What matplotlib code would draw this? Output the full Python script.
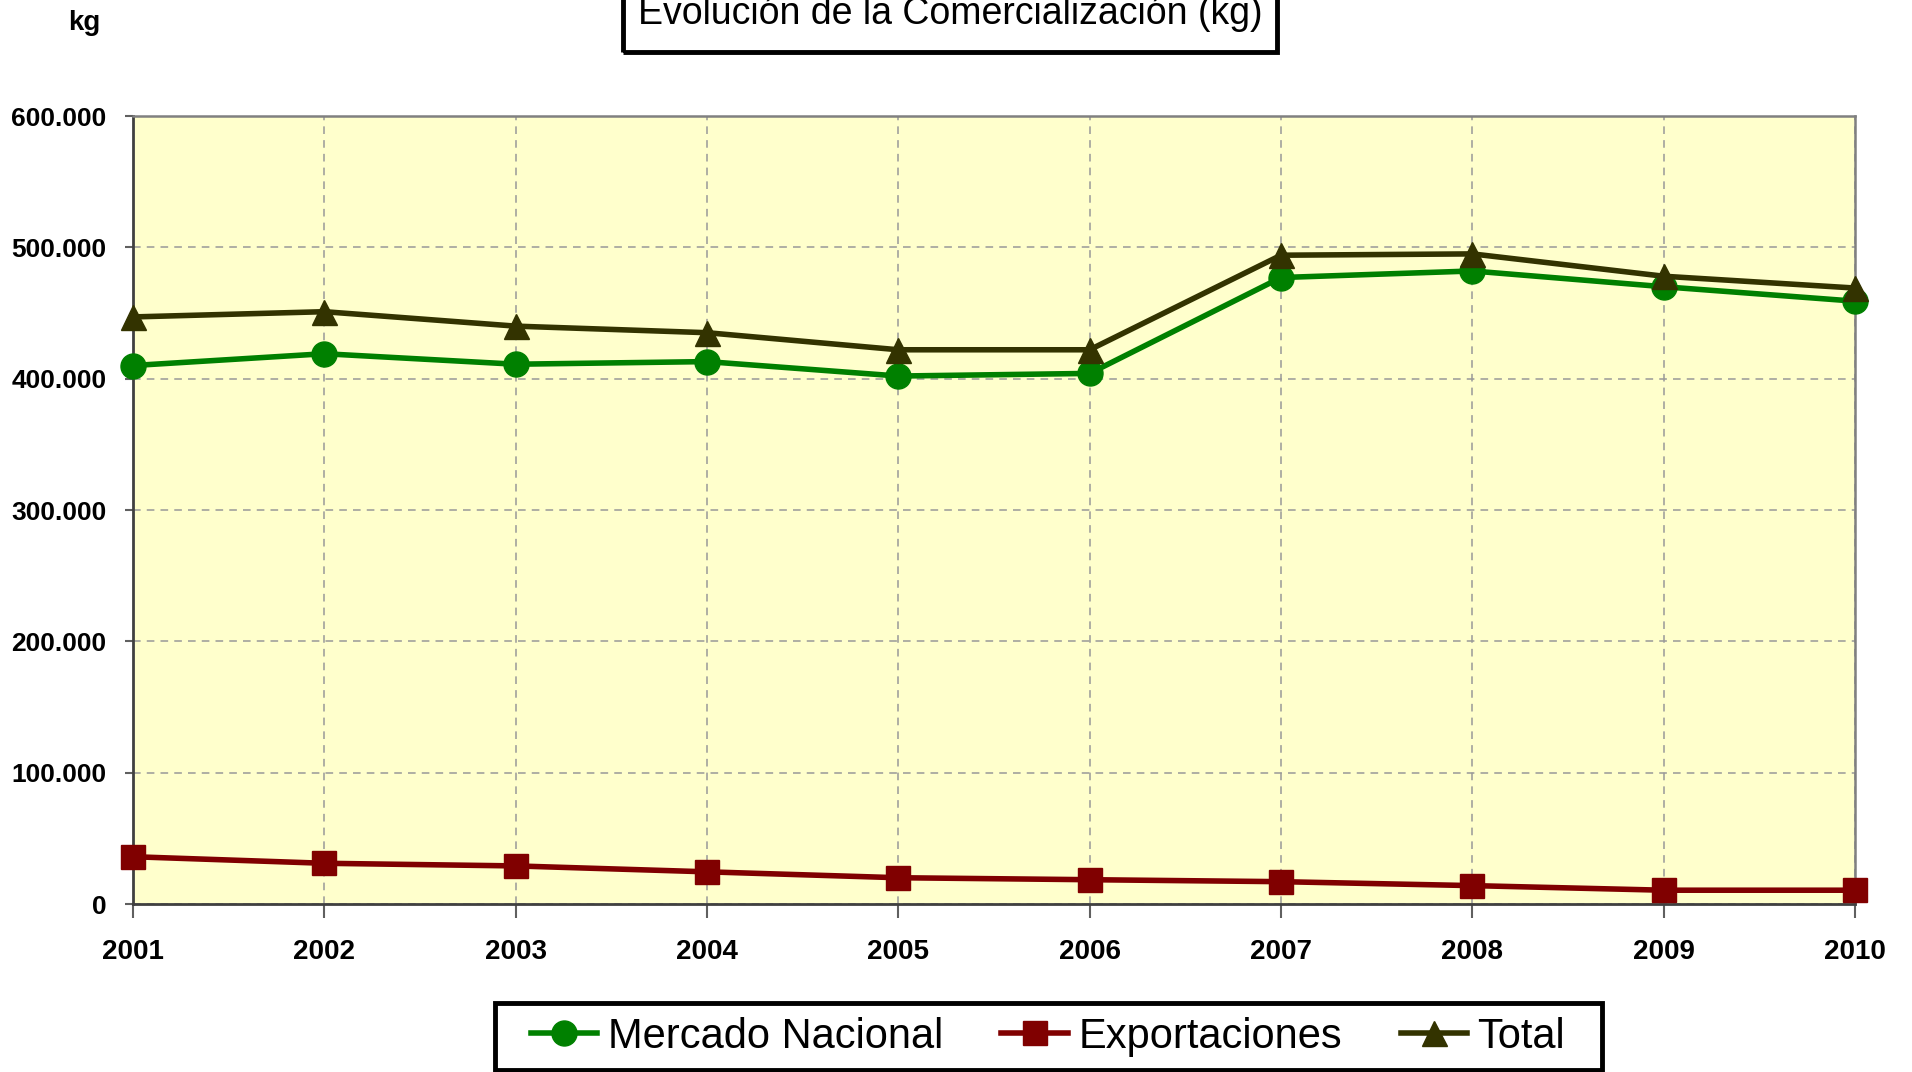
import matplotlib.pyplot as plt
import matplotlib.patches as mpatches
from matplotlib.ticker import FuncFormatter, MultipleLocator

plt.rcParams['font.family'] = ['Liberation Sans', 'DejaVu Sans']

years = [2001, 2002, 2003, 2004, 2005, 2006, 2007, 2008, 2009, 2010]
mercado_nacional = [410000, 419000, 411000, 413000, 402000, 404000, 477000, 482000, 470000, 459000]
exportaciones = [36000, 31000, 29000, 24500, 20000, 18500, 17000, 14000, 10500, 10500]
total = [447000, 451000, 440000, 435000, 422000, 422000, 494000, 495000, 478000, 469000]

title = "Evolución de la Comercialización (kg)"
series_names = ["Mercado Nacional", "Exportaciones", "Total"]

W, H = 1912, 1072
fig = plt.figure(figsize=(W / 100, H / 100), dpi=100)
ax = fig.add_axes([133 / W, 1 - 904 / H, (1855 - 133) / W, (904 - 116) / H])
ax.set_facecolor('#FFFFCC')

lw = 4
ax.plot(years, mercado_nacional, color='#008000', lw=lw, marker='o', ms=18,
        label=series_names[0], clip_on=False, zorder=4)
ax.plot(years, exportaciones, color='#800000', lw=lw, marker='s', ms=17,
        label=series_names[1], clip_on=False, zorder=4)
ax.plot(years, total, color='#333300', lw=lw, marker='^', ms=18,
        label=series_names[2], clip_on=False, zorder=5)

ax.set_xlim(2001, 2010)
ax.set_ylim(0, 600000)
ax.set_xticks(years)
ax.yaxis.set_major_locator(MultipleLocator(100000))
ax.yaxis.set_major_formatter(FuncFormatter(lambda v, p: f"{int(v):,}".replace(',', '.')))

ax.grid(True, color='#999999', linestyle=(0, (5, 4)), lw=1.1)
ax.set_axisbelow(True)

for s in ['left', 'bottom']:
    ax.spines[s].set_color('#404040')
    ax.spines[s].set_linewidth(2)
for s in ['right', 'top']:
    ax.spines[s].set_color('#808080')
    ax.spines[s].set_linewidth(1.8)

ax.tick_params(axis='x', length=10, width=1.5, color='#606060', pad=15,
               labelsize=20)
ax.tick_params(axis='y', length=6, width=1.5, color='#606060', pad=13,
               labelsize=19)
for lab in ax.get_xticklabels() + ax.get_yticklabels():
    lab.set_fontweight('bold')

fig.text(84 / W, 1 - 23 / H, "kg", ha='center', va='center',
         fontsize=20, fontweight='bold')

# title box, runs past the top of the canvas
fig.patches.append(mpatches.Rectangle((623 / W, 1 - 52 / H), (1277 - 623) / W, 80 / H,
                                      transform=fig.transFigure, fill=False,
                                      edgecolor='black', lw=3.5))
fig.text(950 / W, 1 - 24 / H, title, ha='center', va='baseline', fontsize=27)

# legend box drawn by hand, legend itself frameless
fig.patches.append(mpatches.Rectangle((495 / W, 1 - 1070 / H), (1602 - 495) / W, 67 / H,
                                      transform=fig.transFigure, fill=False,
                                      edgecolor='black', lw=3.5))
leg = fig.legend(loc='center', bbox_to_anchor=(1048 / W, 1 - 1037 / H), ncol=3,
                 fontsize=30, frameon=False, handlelength=1.6,
                 handletextpad=0.25, columnspacing=1.4, borderpad=0.2,
                 markerscale=1.0)

fig.savefig('out.png', dpi=100)
